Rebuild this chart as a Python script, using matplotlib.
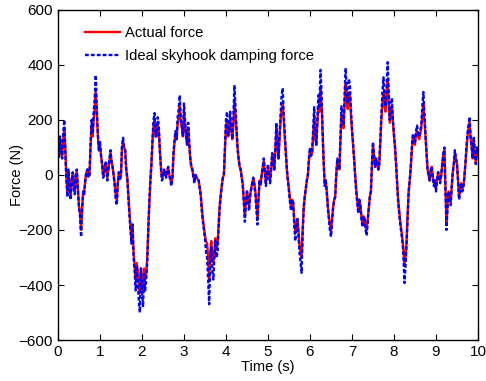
import numpy as np
import matplotlib
matplotlib.use("Agg")
import matplotlib.pyplot as plt

plt.rcParams['font.family'] = ['Liberation Sans', 'DejaVu Sans']

# Ideal skyhook damping force (N), sampled every 0.025 s from 0 to 10 s
ideal_force = [
    100, 60, 140, 90, 60, 150, 200, 90, -20, -80,
    20, -40, -90, -30, 10, -50, -70, 10, 20, -60,
    -120, -150, -225, -130, -60, -70, -20, 10, 20, -10,
    0, 110, 200, 150, 230, 280, 364, 240, 150, 90,
    120, 70, 40, -10, 0, 50, 40, -20, 20, 60,
    90, 50, 30, 0, -40, -90, -110, -30, 10, -20,
    0, 110, 135, 100, 90, 20, -10, -80, -140, -200,
    -250, -180, -300, -350, -420, -330, -380, -460, -500, -340,
    -420, -480, -360, -420, -380, -320, -200, -100, -20, 40,
    130, 200, 225, 140, 150, 210, 180, 90, 30, -20,
    -10, 20, 10, -10, 20, 30, 0, -20, -40, -10,
    80, 130, 160, 130, 210, 240, 290, 200, 180, 140,
    260, 200, 140, 110, 190, 120, 60, 30, 20, -10,
    -30, 0, -10, -15, -20, -50, -80, -130, -170, -200,
    -230, -280, -300, -380, -470, -320, -260, -350, -380, -300,
    -240, -300, -280, -190, -120, -80, -40, -10, 0, 100,
    200, 230, 140, 170, 230, 180, 130, 200, 327, 250,
    170, 100, 60, 30, 20, -10, -40, -100, -170, -110,
    -60, -90, -130, -80, -50, -30, -10, -40, -70, -130,
    -180, -90, -20, -40, 0, 30, 60, 10, -40, 0,
    40, 0, -30, 20, 80, 60, 20, 100, 190, 120,
    60, 140, 220, 290, 316, 220, 150, 80, 20, -20,
    -60, -100, -130, -90, -100, -180, -240, -190, -160, -220,
    -280, -320, -356, -220, -120, -80, -50, -20, 0, 60,
    100, 70, 80, 160, 247, 150, 110, 200, 290, 250,
    382, 300, 160, 50, -40, -20, -60, -120, -160, -200,
    -225, -170, -120, -90, -80, 0, 60, 40, 20, 130,
    250, 200, 180, 300, 389, 300, 260, 350, 330, 240,
    170, 120, 60, 0, -60, -100, -140, -90, -110, -160,
    -190, -150, -160, -200, -220, -170, -120, -80, -60, 40,
    120, 70, 30, 60, 50, 20, 40, 130, 220, 300,
    355, 280, 250, 330, 410, 300, 200, 240, 280, 200,
    150, 100, 40, -30, -100, -140, -180, -210, -240, -290,
    -393, -330, -250, -150, -60, -20, 30, 100, 150, 130,
    120, 160, 180, 150, 140, 160, 180, 250, 302, 220,
    150, 80, 20, 0, -20, 20, 30, -10, -40, -20,
    -60, -20, 10, -10, -30, 0, 40, 80, 100, -50,
    -200, -120, -60, -90, -110, -40, 10, 40, 90, 60,
    40, -20, -90, -60, -30, -60, -50, -10, 40, 100,
    150, 180, 211, 140, 100, 60, 140, 80, 40, 100,
    80,
]

# Actual force (N), same sampling
actual_force = [
    90, 70, 130, 90, 70, 130, 170, 90, -10, -60,
    10, -30, -70, -20, 0, -40, -60, 0, 10, -50,
    -110, -140, -200, -120, -60, -60, -20, 10, 20, -5,
    0, 100, 180, 140, 200, 240, 300, 220, 140, 90,
    110, 70, 40, 0, 10, 40, 30, -10, 20, 50,
    80, 50, 30, 0, -30, -70, -90, -30, 10, -10,
    0, 100, 120, 100, 90, 20, -10, -70, -130, -190,
    -230, -180, -280, -330, -380, -320, -350, -400, -430, -340,
    -390, -420, -340, -380, -360, -300, -200, -100, -20, 40,
    120, 180, 200, 140, 140, 180, 160, 90, 30, -10,
    -5, 15, 10, -5, 15, 25, 0, -15, -30, -10,
    70, 120, 150, 130, 190, 210, 250, 190, 170, 140,
    230, 190, 140, 110, 170, 110, 60, 30, 20, -5,
    -20, 0, -10, -15, -20, -45, -70, -120, -160, -190,
    -220, -240, -250, -300, -380, -280, -240, -300, -320, -270,
    -230, -270, -250, -180, -110, -70, -40, -10, 0, 90,
    180, 200, 140, 160, 200, 170, 130, 180, 270, 220,
    160, 100, 60, 30, 20, -10, -30, -90, -150, -100,
    -60, -80, -110, -70, -50, -30, -10, -30, -60, -110,
    -150, -80, -20, -30, 0, 25, 50, 10, -30, 0,
    30, 0, -20, 20, 70, 50, 20, 90, 170, 110,
    60, 130, 200, 240, 260, 200, 140, 80, 20, -20,
    -50, -90, -120, -90, -100, -160, -210, -180, -160, -200,
    -250, -280, -300, -200, -120, -80, -50, -20, 0, 50,
    90, 70, 80, 140, 210, 140, 110, 180, 250, 230,
    320, 260, 150, 50, -30, -20, -60, -110, -150, -180,
    -210, -160, -120, -90, -80, 0, 50, 40, 20, 120,
    220, 190, 170, 260, 330, 270, 240, 300, 290, 220,
    160, 110, 60, 0, -50, -90, -130, -90, -110, -150,
    -180, -150, -160, -190, -200, -160, -120, -80, -60, 30,
    110, 70, 30, 55, 50, 20, 40, 120, 200, 260,
    300, 250, 230, 290, 340, 260, 190, 220, 250, 190,
    140, 100, 40, -30, -90, -130, -170, -200, -230, -270,
    -330, -300, -240, -140, -60, -20, 30, 90, 140, 120,
    110, 150, 160, 140, 130, 150, 170, 220, 260, 200,
    140, 80, 20, 0, -20, 15, 30, -10, -30, -20,
    -50, -20, 10, -10, -20, 0, 40, 70, 90, -40,
    -170, -110, -60, -80, -100, -40, 10, 40, 80, 60,
    40, -20, -80, -50, -30, -50, -40, -10, 40, 90,
    140, 170, 190, 130, 100, 60, 130, 80, 40, 90,
    70,
]

t_start, t_end = 0.0, 10.0
x_ticks = [0, 1, 2, 3, 4, 5, 6, 7, 8, 9, 10]
y_ticks = [-600, -400, -200, 0, 200, 400, 600]

t_ideal = np.linspace(t_start, t_end, len(ideal_force))
t_actual = np.linspace(t_start, t_end, len(actual_force))

fig = plt.figure(figsize=(4.86, 3.81), dpi=100)
ax = fig.add_axes([0.1193, 0.1076, 0.8642, 0.8662])

ax.plot(t_actual, actual_force, color='#ff0000', lw=1.7, label='Actual force')
ax.plot(t_ideal, ideal_force, color='#0000ff', lw=1.7, ls=(0, (1.6, 0.9)),
        label='Ideal skyhook damping force')

ax.set_xlim(0, 10)
ax.set_ylim(-600, 600)
ax.set_xticks(x_ticks)
ax.set_yticks(y_ticks)
ax.tick_params(direction='in', top=True, right=True, labelsize=11, length=4, width=0.8)
for s in ax.spines.values():
    s.set_linewidth(1.0)

ax.set_xlabel('Time (s)', fontsize=10.5, labelpad=1)
ax.set_ylabel('Force (N)', fontsize=10.5, labelpad=-4)

leg = ax.legend(loc='upper left', bbox_to_anchor=(0.064, 0.952), frameon=False,
                fontsize=10.6, handlelength=2.4, handletextpad=0.35,
                labelspacing=0.62, borderaxespad=0, borderpad=0)

fig.savefig('out.png', dpi=100)
